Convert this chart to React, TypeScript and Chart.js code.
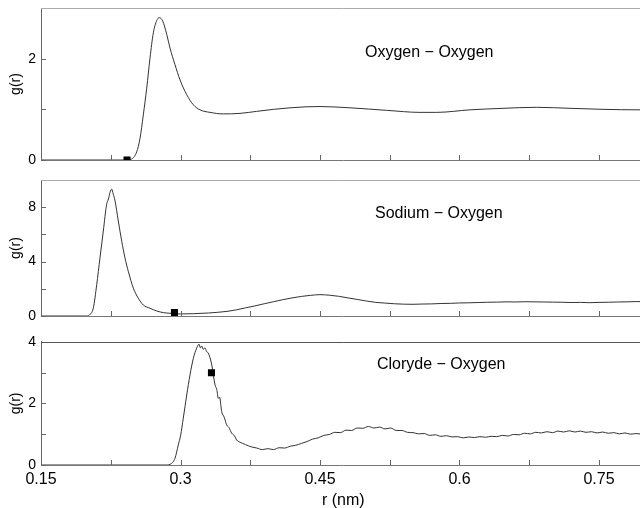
import React, { useEffect, useRef } from 'react';
import { Chart, registerables } from 'chart.js';

Chart.register(...registerables);

const FONT = '"Liberation Sans", Arial, Helvetica, sans-serif';

// shared x axis (r in nm)
const xTicks = [0.15, 0.225, 0.3, 0.375, 0.45, 0.525, 0.6, 0.675, 0.75];
const xTickLabels = ['0.15', '', '0.3', '', '0.45', '', '0.6', '', '0.75'];

// Oxygen - Oxygen
const ooR = [0.15, 0.24, 0.2425, 0.2475, 0.2529, 0.2565, 0.26, 0.2637, 0.2672, 0.2708, 0.2744, 0.2772, 0.2809, 0.2852, 0.2887, 0.2941, 0.2995, 0.3067, 0.3138, 0.321, 0.3317, 0.346, 0.364, 0.3819, 0.4, 0.4178, 0.435, 0.45, 0.4823, 0.5217, 0.5575, 0.5755, 0.6113, 0.6468, 0.683, 0.7188, 0.7543, 0.7941, 0.8];
const ooG = [0, 0, 0.0, 0.02, 0.16, 0.43, 0.89, 1.42, 2.01, 2.51, 2.75, 2.81, 2.74, 2.48, 2.21, 1.88, 1.58, 1.29, 1.09, 0.99, 0.94, 0.91, 0.92, 0.96, 1.0, 1.03, 1.05, 1.055, 1.03, 0.98, 0.94, 0.94, 0.99, 1.02, 1.04, 1.02, 1.0, 0.99, 0.99];
const ooMarker = [0.2425, 0];
const ooYTicks = [0, 1, 2, 3];
const ooYLabels = ['0', '', '2', ''];

// Sodium - Oxygen
const naR = [0.15, 0.2, 0.2019, 0.2062, 0.2099, 0.2134, 0.217, 0.2206, 0.2225, 0.2242, 0.226, 0.2277, 0.2296, 0.2331, 0.2368, 0.2403, 0.2439, 0.2493, 0.2546, 0.26, 0.2672, 0.2744, 0.2815, 0.2887, 0.2995, 0.3138, 0.33, 0.34, 0.35, 0.36, 0.37, 0.38, 0.39, 0.4, 0.41, 0.42, 0.43, 0.44, 0.45, 0.46, 0.47, 0.48, 0.49, 0.5, 0.51, 0.52, 0.53, 0.54, 0.55, 0.56, 0.57, 0.58, 0.59, 0.6, 0.61, 0.62, 0.63, 0.64, 0.65, 0.66, 0.67, 0.68, 0.69, 0.7, 0.71, 0.72, 0.73, 0.74, 0.75, 0.76, 0.77, 0.78, 0.79, 0.8];
const naG = [0, 0, 0.07, 0.57, 2.3, 4.27, 6.25, 8.22, 8.6, 9.09, 9.33, 8.96, 8.47, 6.99, 5.5, 4.27, 3.28, 2.05, 1.31, 0.81, 0.57, 0.37, 0.25, 0.2, 0.15, 0.17, 0.22, 0.27, 0.34, 0.45, 0.6, 0.74, 0.9, 1.05, 1.2, 1.33, 1.44, 1.52, 1.57, 1.53, 1.45, 1.33, 1.22, 1.1, 1.0, 0.95, 0.9, 0.87, 0.86, 0.88, 0.89, 0.92, 0.93, 0.96, 0.97, 0.99, 1.01, 1.02, 1.04, 1.03, 1.05, 1.04, 1.03, 1.02, 1.01, 0.99, 1.0, 0.98, 1.0, 1.01, 1.03, 1.04, 1.06, 1.05];
const naMarker = [0.2935, 0.26];
const naYTicks = [0, 2, 4, 6, 8, 10];
const naYLabels = ['0', '', '4', '', '8', ''];

// Cloryde - Oxygen
const clR = [0.15, 0.285, 0.2887, 0.2941, 0.2976, 0.3002, 0.303, 0.3067, 0.3102, 0.3138, 0.3174, 0.3199, 0.3215, 0.3228, 0.3245, 0.3263, 0.328, 0.3299, 0.3336, 0.3371, 0.339, 0.3407, 0.342, 0.3443, 0.347, 0.3497, 0.352, 0.3551, 0.358, 0.3604, 0.364, 0.37, 0.376, 0.382, 0.388, 0.394, 0.4, 0.406, 0.412, 0.418, 0.424, 0.43, 0.436, 0.442, 0.448, 0.454, 0.46, 0.466, 0.472, 0.478, 0.484, 0.49, 0.496, 0.502, 0.508, 0.514, 0.52, 0.526, 0.532, 0.538, 0.544, 0.55, 0.556, 0.562, 0.568, 0.574, 0.58, 0.586, 0.592, 0.598, 0.604, 0.61, 0.616, 0.622, 0.628, 0.634, 0.64, 0.646, 0.652, 0.658, 0.664, 0.67, 0.676, 0.682, 0.688, 0.694, 0.7, 0.706, 0.712, 0.718, 0.724, 0.73, 0.736, 0.742, 0.748, 0.754, 0.76, 0.766, 0.772, 0.778, 0.784, 0.79, 0.796, 0.8];
const clG = [0, 0, 0.02, 0.22, 0.65, 0.97, 1.52, 2.27, 2.92, 3.46, 3.79, 3.92, 3.8, 3.86, 3.75, 3.8, 3.68, 3.63, 3.25, 2.6, 2.45, 2.16, 2.2, 1.73, 1.55, 1.3, 1.22, 1.03, 0.95, 0.81, 0.74, 0.66, 0.59, 0.55, 0.5, 0.53, 0.5, 0.56, 0.55, 0.61, 0.64, 0.7, 0.76, 0.84, 0.88, 0.96, 0.99, 1.06, 1.05, 1.13, 1.12, 1.2, 1.19, 1.25, 1.2, 1.23, 1.17, 1.2, 1.12, 1.12, 1.06, 1.05, 1.01, 1.02, 0.96, 0.98, 0.93, 0.95, 0.91, 0.92, 0.88, 0.91, 0.89, 0.92, 0.9, 0.93, 0.92, 0.96, 0.94, 0.99, 0.98, 1.03, 1.01, 1.06, 1.04, 1.08, 1.05, 1.1, 1.07, 1.11, 1.07, 1.1, 1.06, 1.08, 1.04, 1.07, 1.03, 1.05, 1.01, 1.04, 1.0, 1.02, 1.0, 1.01];
const clMarker = [0.3333, 2.99];
const clYTicks = [0, 1, 2, 3, 4];
const clYLabels = ['0', '', '2', '', '4'];

const inwardTicks = {
  id: 'inwardTicks',
  afterDatasetsDraw(chart: any, _args: any, opts: any) {
    const { ctx, chartArea } = chart;
    const xs = chart.scales.x;
    const ys = chart.scales.y;
    ctx.save();
    ctx.lineWidth = 1;
    ctx.strokeStyle = opts.tickColor;
    ctx.beginPath();
    xs.ticks.forEach((t: any) => {
      const px = Math.round(xs.getPixelForValue(t.value)) + 0.5;
      ctx.moveTo(px, chartArea.bottom);
      ctx.lineTo(px, chartArea.bottom - 5);
    });
    ys.ticks.forEach((t: any) => {
      const py = Math.round(ys.getPixelForValue(t.value)) + 0.5;
      ctx.moveTo(chartArea.left, py);
      ctx.lineTo(chartArea.left + 5, py);
    });
    ctx.stroke();
    ctx.strokeStyle = opts.topColor;
    ctx.beginPath();
    const ty = Math.round(chartArea.top) + 0.5;
    ctx.moveTo(chartArea.left, ty);
    ctx.lineTo(chartArea.right, ty);
    ctx.stroke();
    ctx.restore();
  },
};

type PanelProps = {
  top: number;
  height: number;
  padTop: number;
  xAxisH: number;
  r: number[];
  g: number[];
  marker: number[];
  yTicks: number[];
  yLabels: string[];
  showX: boolean;
  topColor: string;
};

function Panel(p: PanelProps) {
  const ref = useRef<HTMLCanvasElement>(null);
  useEffect(() => {
    const yMin = p.yTicks[0];
    const yMax = p.yTicks[p.yTicks.length - 1];
    const chart = new Chart(ref.current as HTMLCanvasElement, {
      type: 'scatter',
      data: {
        datasets: [
          {
            data: [{ x: p.marker[0], y: p.marker[1] }],
            pointStyle: 'rect',
            pointRadius: 5,
            backgroundColor: '#000',
            borderColor: '#000',
            borderWidth: 0,
            showLine: false,
            order: 0,
          } as any,
          {
            data: p.r.map((x, i) => ({ x, y: p.g[i] })),
            showLine: true,
            borderColor: '#333',
            borderWidth: 1,
            pointRadius: 0,
            cubicInterpolationMode: 'monotone',
            order: 1,
          } as any,
        ],
      },
      options: {
        animation: false,
        responsive: false,
        events: [],
        layout: { padding: { top: p.padTop, right: 14.5, left: 0, bottom: 0 } },
        plugins: {
          legend: { display: false },
          tooltip: { enabled: false },
          inwardTicks: { tickColor: '#666', topColor: p.topColor },
        } as any,
        scales: {
          x: {
            type: 'linear',
            min: 0.15,
            max: 0.8,
            afterBuildTicks: (s: any) => {
              s.ticks = xTicks.map((v) => ({ value: v }));
            },
            afterFit: (s: any) => {
              s.height = p.xAxisH;
              s.paddingLeft = 0;
              s.paddingRight = 0;
            },
            ticks: {
              autoSkip: false,
              maxRotation: 0,
              padding: 5,
              color: '#000',
              font: { family: FONT, size: 16 },
              callback: (_v: any, i: number) => (p.showX ? xTickLabels[i] : ''),
            },
            grid: { display: false, drawTicks: false },
            border: { display: true, color: '#777', width: 1 },
            title: {
              display: p.showX,
              text: 'r (nm)',
              color: '#000',
              font: { family: FONT, size: 16 },
              padding: { top: 0, bottom: 0 },
            },
          },
          y: {
            type: 'linear',
            min: yMin,
            max: yMax,
            afterBuildTicks: (s: any) => {
              s.ticks = p.yTicks.map((v) => ({ value: v }));
            },
            afterFit: (s: any) => {
              s.width = 41;
              s.paddingTop = 0;
              s.paddingBottom = 0;
            },
            ticks: {
              padding: 5,
              color: '#000',
              font: { family: FONT, size: 14 },
              callback: (_v: any, i: number) => p.yLabels[i],
            },
            grid: { display: false, drawTicks: false },
            border: { display: true, color: '#666', width: 1 },
            title: {
              display: true,
              text: 'g(r)',
              color: '#000',
              font: { family: FONT, size: 14 },
              padding: { top: 8, bottom: 0 },
            },
          },
        },
      } as any,
      plugins: [inwardTicks as any],
    });
    return () => chart.destroy();
  }, []);
  return (
    <canvas
      ref={ref}
      width={660}
      height={p.height}
      style={{ position: 'absolute', left: 0, top: p.top, width: 660, height: p.height }}
    />
  );
}

const labelStyle: React.CSSProperties = {
  position: 'absolute',
  fontFamily: FONT,
  fontSize: 16,
  lineHeight: '16px',
  color: '#000',
  whiteSpace: 'nowrap',
};

export default function App() {
  return (
    <div
      style={{
        position: 'fixed',
        left: 0,
        top: 0,
        width: 640,
        height: 508,
        overflow: 'hidden',
        background: '#fff',
      }}
    >
      <Panel top={0} height={170} padTop={8} xAxisH={10} r={ooR} g={ooG} marker={ooMarker} yTicks={ooYTicks} yLabels={ooYLabels} showX={false} topColor="#aaa" />
      <Panel top={170} height={156} padTop={10} xAxisH={10} r={naR} g={naG} marker={naMarker} yTicks={naYTicks} yLabels={naYLabels} showX={false} topColor="#aaa" />
      <Panel top={328} height={182} padTop={13.7} xAxisH={45} r={clR} g={clG} marker={clMarker} yTicks={clYTicks} yLabels={clYLabels} showX={true} topColor="#555" />
      <div style={{ ...labelStyle, left: 365, top: 43.5 }}>Oxygen − Oxygen</div>
      <div style={{ ...labelStyle, left: 375, top: 204.5 }}>Sodium − Oxygen</div>
      <div style={{ ...labelStyle, left: 377, top: 355.5 }}>Cloryde − Oxygen</div>
    </div>
  );
}
